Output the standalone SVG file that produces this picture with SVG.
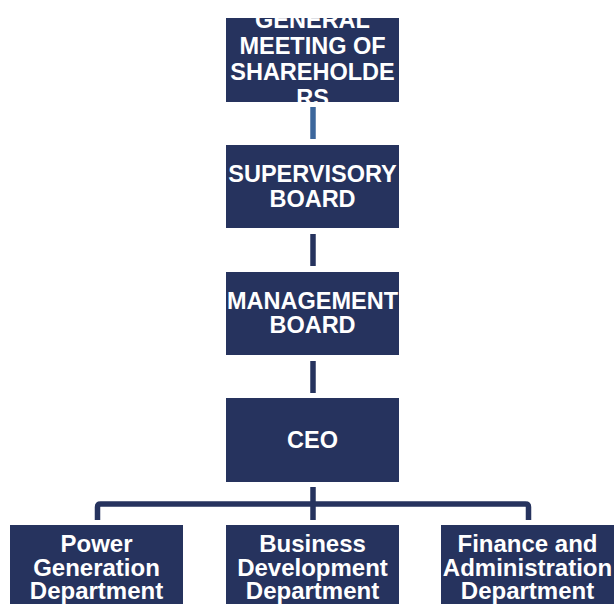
<svg xmlns="http://www.w3.org/2000/svg" width="614" height="604" viewBox="0 0 614 604">
<style>
.box{fill:#26335e;}
.t{font-family:"Liberation Sans",Arial,sans-serif;font-weight:bold;fill:#ffffff;text-anchor:middle;font-size:23.5px;}
.b{font-size:24px;}
.c{fill:none;stroke:#26335e;stroke-width:5.5;}
</style>
<defs>
<clipPath id="clip1"><rect x="226" y="18" width="173" height="84"/></clipPath>
</defs>
<rect width="614" height="604" fill="#ffffff"/>
<g id="connectors">
<line x1="313" y1="107" x2="313" y2="139" stroke="#3c679c" stroke-width="5.5"/>
<line class="c" x1="313" y1="234" x2="313" y2="266"/>
<line class="c" x1="313" y1="361" x2="313" y2="393"/>
<line class="c" x1="313" y1="487" x2="313" y2="520"/>
<path class="c" d="M97.5 520 V507 Q97.5 504 100.5 504 H525.5 Q528.5 504 528.5 507 V520"/>
</g>
<g id="gms">
<rect class="box" x="226" y="18" width="173" height="84"/>
<g clip-path="url(#clip1)">
<text class="t" x="312.5" y="28">GENERAL</text>
<text class="t" x="312.5" y="54">MEETING OF</text>
<text class="t" x="312.5" y="80">SHAREHOLDE</text>
<text class="t" x="312.5" y="106">RS</text>
</g>
</g>
<g id="supervisory">
<rect class="box" x="226" y="145" width="173" height="83"/>
<text class="t" x="312.5" y="182">SUPERVISORY</text>
<text class="t" x="312.5" y="207">BOARD</text>
</g>
<g id="management">
<rect class="box" x="226" y="272" width="173" height="83"/>
<text class="t" x="312.5" y="309">MANAGEMENT</text>
<text class="t" x="312.5" y="333">BOARD</text>
</g>
<g id="ceo">
<rect class="box" x="226" y="398" width="173" height="84"/>
<text class="t" x="312.5" y="448">CEO</text>
</g>
<g id="power">
<rect class="box" x="10" y="525" width="173" height="79"/>
<text class="t b" x="96.5" y="552">Power</text>
<text class="t b" x="96.5" y="575.5">Generation</text>
<text class="t b" x="96.5" y="599">Department</text>
</g>
<g id="business">
<rect class="box" x="226" y="525" width="173" height="79"/>
<text class="t b" x="312.5" y="552">Business</text>
<text class="t b" x="312.5" y="575.5">Development</text>
<text class="t b" x="312.5" y="599">Department</text>
</g>
<g id="finance">
<rect class="box" x="441" y="525" width="173" height="79"/>
<text class="t b" x="527.5" y="552">Finance and</text>
<text class="t b" x="527.5" y="575.5">Administration</text>
<text class="t b" x="527.5" y="599">Department</text>
</g>
</svg>
